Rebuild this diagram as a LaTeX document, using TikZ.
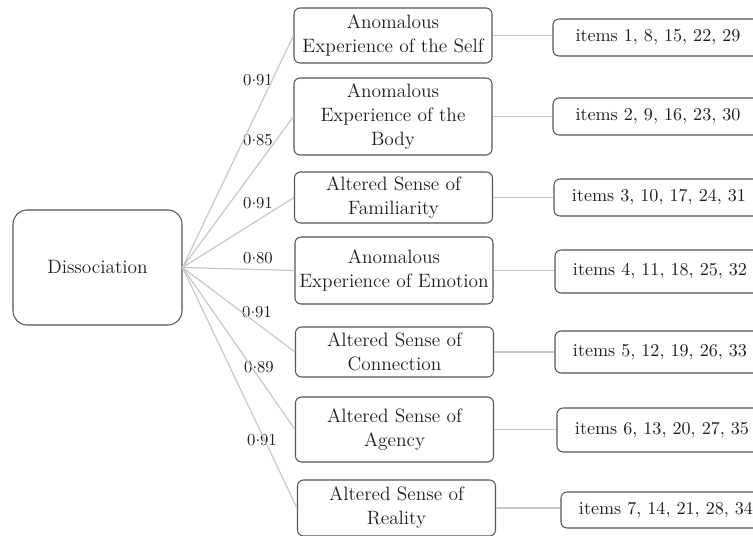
\documentclass[tikz,border=0pt]{standalone}
\usepackage{xcolor}
\usepackage{tikz}
\usetikzlibrary{positioning}
\definecolor{boxline}{RGB}{85,85,85}
\definecolor{linkgray}{RGB}{200,200,200}
\definecolor{txtgray}{RGB}{30,30,30}
\newcommand{\middot}{\raisebox{0.55ex}{.}}

\begin{document}
\begin{tikzpicture}[
        box/.style={draw=boxline, line width=0.6pt, rounded corners=3.4pt, minimum width=3.96cm, align=center, inner sep=1pt, text=txtgray, font=\fontsize{11}{13.6}\selectfont},
        item/.style={box, minimum width=4.2cm, font=\fontsize{10.3}{13.6}\selectfont},
        load/.style={font=\fontsize{9.5}{11}\selectfont, text=txtgray, inner sep=1pt},
        link/.style={draw=linkgray, line width=0.7pt}
    ]
        \useasboundingbox (0,0) rectangle (15.06,-10.72);

        % Faktor
        \node[box, rounded corners=8pt, minimum width=3.38cm, minimum height=2.30cm] (diss) at (1.95,-5.35) {Dissociation};

        % Subskalen
        \node[box, minimum height=1.10cm] (f1) at (7.86,-0.71) {Anomalous\\Experience of the Self};
        \node[box, minimum height=1.54cm] (f2) at (7.86,-2.33) {Anomalous\\Experience of the\\Body};
        \node[box, minimum height=1.02cm] (f3) at (7.87,-3.95) {Altered Sense of\\Familiarity};
        \node[box, minimum height=1.34cm] (f4) at (7.88,-5.41) {Anomalous\\Experience of Emotion};
        \node[box, minimum height=1.00cm] (f5) at (7.89,-7.04) {Altered Sense of\\Connection};
        \node[box, minimum height=1.30cm] (f6) at (7.89,-8.59) {Altered Sense of\\Agency};
        \node[box, minimum height=1.12cm] (f7) at (7.93,-10.16) {Altered Sense of\\Reality};

        % Items
        \node[item, minimum height=0.74cm] (i1) at (13.16,-0.75) {items 1, 8, 15, 22, 29};
        \node[item, minimum height=0.74cm] (i2) at (13.16,-2.33) {items 2, 9, 16, 23, 30};
        \node[item, minimum height=0.74cm] (i3) at (13.18,-3.95) {items 3, 10, 17, 24, 31};
        \node[item, minimum height=0.86cm] (i4) at (13.20,-5.43) {items 4, 11, 18, 25, 32};
        \node[item, minimum height=0.84cm] (i5) at (13.20,-7.04) {items 5, 12, 19, 26, 33};
        \node[item, minimum height=0.88cm] (i6) at (13.24,-8.60) {items 6, 13, 20, 27, 35};
        \node[item, minimum height=0.72cm] (i7) at (13.32,-10.20) {items 7, 14, 21, 28, 34};

        % Ladungen
        \node[load] (l1) at (5.16,-1.60) {0\middot91};
        \node[load] (l2) at (5.16,-2.80) {0\middot85};
        \node[load] (l3) at (5.16,-4.06) {0\middot91};
        \node[load] (l4) at (5.16,-5.16) {0\middot80};
        \node[load] (l5) at (5.14,-6.24) {0\middot91};
        \node[load] (l6) at (5.18,-7.34) {0\middot89};
        \node[load] (l7) at (5.24,-8.80) {0\middot91};

        \foreach \k in {1,...,7} {
            \draw[link] (diss.east) -- (f\k.west);
            \draw[link] (f\k.east) -- (f\k.east -| i\k.west);
        }
    \end{tikzpicture}
\end{document}
